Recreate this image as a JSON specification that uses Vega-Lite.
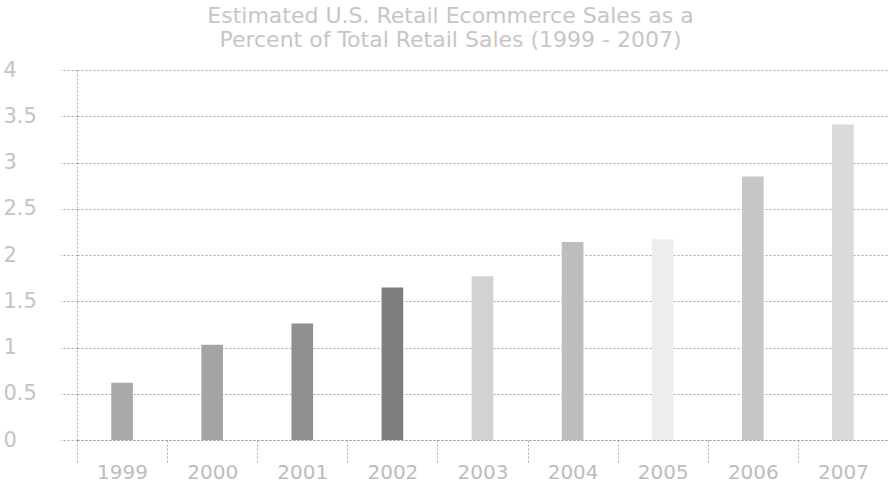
{
  "$schema": "https://vega.github.io/schema/vega-lite/v6.json",
  "width": 811,
  "height": 370,
  "autosize": {"type": "none"},
  "padding": {"left": 77, "top": 70, "right": 0, "bottom": 50},
  "background": "white",
  "title": {
    "text": ["Estimated U.S. Retail Ecommerce Sales as a", "Percent of Total Retail Sales (1999 - 2007)"],
    "font": "DejaVu Sans",
    "fontSize": 22,
    "fontWeight": "normal",
    "color": "#c6c6c6",
    "anchor": "middle",
    "frame": "group",
    "dx": -32,
    "offset": 7,
    "lineHeight": 24
  },
  "data": {
    "values": [
      {"year": "1999", "pct": 0.62},
      {"year": "2000", "pct": 1.03},
      {"year": "2001", "pct": 1.26},
      {"year": "2002", "pct": 1.65},
      {"year": "2003", "pct": 1.77},
      {"year": "2004", "pct": 2.14},
      {"year": "2005", "pct": 2.17},
      {"year": "2006", "pct": 2.85},
      {"year": "2007", "pct": 3.41}
    ]
  },
  "mark": {"type": "bar", "width": {"band": 0.24}},
  "encoding": {
    "x": {
      "field": "year",
      "type": "nominal",
      "sort": null,
      "scale": {"paddingInner": 0, "paddingOuter": 0},
      "axis": {
        "title": null,
        "labelAngle": 0,
        "labelFont": "DejaVu Sans",
        "labelFontSize": 20,
        "labelColor": "#bcbcbc",
        "labelPadding": 0,
        "tickBand": "extent",
        "tickSize": 22,
        "tickColor": "#b0b0b0",
        "tickDash": [2, 2],
        "domainColor": "#9c9c9c",
        "domainDash": [2, 2],
        "grid": false
      }
    },
    "y": {
      "field": "pct",
      "type": "quantitative",
      "scale": {"domain": [0, 4], "nice": false},
      "axis": {
        "title": null,
        "values": [0, 0.5, 1, 1.5, 2, 2.5, 3, 3.5, 4],
        "format": "~g",
        "labelFont": "DejaVu Sans",
        "labelFontSize": 21,
        "labelColor": "#c4c4c4",
        "labelAlign": "left",
        "labelBaseline": "middle",
        "tickSize": 17,
        "labelPadding": 57,
        "tickColor": "#a8a8a8",
        "tickDash": [2, 2],
        "domainColor": "#b0b0b0",
        "domainDash": [2, 2],
        "grid": true,
        "gridColor": "#a4a4a4",
        "gridDash": [2, 2],
        "gridWidth": 1
      }
    },
    "color": {
      "field": "year",
      "type": "nominal",
      "sort": null,
      "legend": null,
      "scale": {
        "domain": ["1999", "2000", "2001", "2002", "2003", "2004", "2005", "2006", "2007"],
        "range": ["#a9a9a9", "#a4a4a4", "#8f8f8f", "#7d7d7d", "#d2d2d2", "#bdbdbd", "#ededed", "#c6c6c6", "#dadada"]
      }
    }
  },
  "config": {
    "view": {"stroke": null}
  }
}
